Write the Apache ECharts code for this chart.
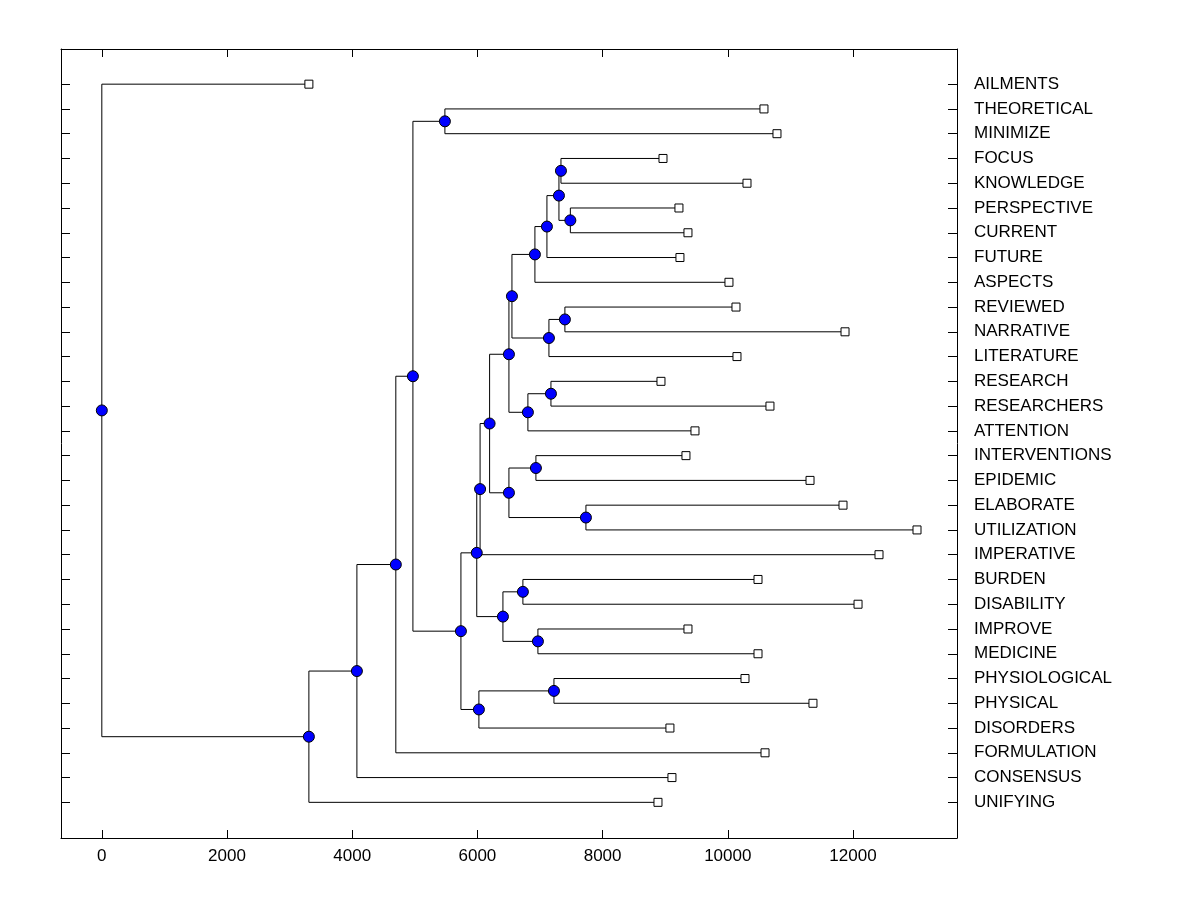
<!DOCTYPE html>
<html>
<head>
<meta charset="utf-8">
<title>Dendrogram</title>
<script src="https://cdn.jsdelivr.net/npm/echarts@6/dist/echarts.min.js"></script>
<style>
html, body { margin: 0; padding: 0; background: #fff; }
#chart { width: 1200px; height: 900px; }
</style>
</head>
<body>
<div id="chart"></div>
<script>
// leaves, top to bottom
var leafNames = ['AILMENTS', 'THEORETICAL', 'MINIMIZE', 'FOCUS', 'KNOWLEDGE', 'PERSPECTIVE', 'CURRENT', 'FUTURE',
	'ASPECTS', 'REVIEWED', 'NARRATIVE', 'LITERATURE', 'RESEARCH', 'RESEARCHERS', 'ATTENTION', 'INTERVENTIONS',
	'EPIDEMIC', 'ELABORATE', 'UTILIZATION', 'IMPERATIVE', 'BURDEN', 'DISABILITY', 'IMPROVE', 'MEDICINE',
	'PHYSIOLOGICAL', 'PHYSICAL', 'DISORDERS', 'FORMULATION', 'CONSENSUS', 'UNIFYING'];
var leafHeights = [3308, 10578, 10786, 8965, 10307, 9220, 9364, 9236,
	10019, 10131, 11873, 10147, 8933, 10674, 9476, 9332,
	11314, 11841, 13023, 12416, 10483, 12081, 9364, 10483,
	10275, 11361, 9076, 10595, 9108, 8885];

// merges: ids 0..29 are leaves, merge k gets id 30+k
var mergeChildren = [
	[3, 4], [5, 6], [30, 31], [32, 7], [33, 8],
	[9, 10], [35, 11], [34, 36], [12, 13], [38, 14],
	[37, 39], [15, 16], [17, 18], [41, 42], [40, 43],
	[44, 19], [20, 21], [22, 23], [46, 47], [45, 48],
	[24, 25], [50, 26], [49, 51], [1, 2], [53, 52],
	[54, 27], [55, 28], [56, 29], [0, 57]
];
var mergeHeights = [
	7335, 7485, 7303, 7111, 6919,
	7398, 7143, 6552, 7175, 6807,
	6504, 6935, 7734, 6504, 6195,
	6043, 6727, 6967, 6408, 5990,
	7223, 6024, 5737, 5481, 4970,
	4697, 4075, 3308, 0
];

var xTicks = [0, 2000, 4000, 6000, 8000, 10000, 12000];

var nodeX = leafHeights.slice();
var nodeY = leafNames.map(function(n, i) { return i; });
var branches = [];
var joints = [];
mergeChildren.forEach(function(pair, k) {
	var h = mergeHeights[k];
	var y = (nodeY[pair[0]] + nodeY[pair[1]]) / 2;
	nodeX.push(h);
	nodeY.push(y);
	joints.push([h, y]);
	pair.forEach(function(c) {
		branches.push({ coords: [[h, y], [h, nodeY[c]], [nodeX[c], nodeY[c]]] });
	});
});
var leaves = leafHeights.map(function(h, i) { return [h, i]; });
var rows = leafNames.map(function(n, i) { return i; });

var font = 'Liberation Sans, Arial, sans-serif';
var axisLine = { show: true, onZero: false, lineStyle: { color: '#000', width: 1 } };
var tick = function(len, vals) {
	return { inside: true, length: len, lineStyle: { color: '#000', width: 1 }, customValues: vals };
};

var option = {
	animation: false,
	backgroundColor: '#fff',
	grid: { left: 61, right: 243, top: 49, bottom: 62 },
	xAxis: [{
		type: 'value', min: -652, max: 13662, position: 'bottom',
		axisLine: axisLine,
		axisTick: tick(8, xTicks),
		axisLabel: {
			margin: 10, color: '#000', fontSize: 17, fontFamily: font, customValues: xTicks,
			formatter: function(v) { return String(v); }
		},
		splitLine: { show: false }
	}, {
		type: 'value', min: -652, max: 13662, position: 'top',
		axisLine: axisLine,
		axisTick: tick(8, xTicks),
		axisLabel: { show: false },
		splitLine: { show: false }
	}],
	yAxis: [{
		type: 'value', min: -1.42, max: 30.44, inverse: true, position: 'left',
		axisLine: axisLine,
		axisTick: tick(9, rows),
		axisLabel: { show: false },
		splitLine: { show: false }
	}, {
		type: 'value', min: -1.42, max: 30.44, inverse: true, position: 'right',
		axisLine: axisLine,
		axisTick: tick(9, rows),
		axisLabel: {
			margin: 17, color: '#000', fontSize: 17, fontFamily: font, customValues: rows,
			formatter: function(v) { return leafNames[Math.round(v)] || ''; }
		},
		splitLine: { show: false }
	}],
	series: [{
		type: 'lines',
		coordinateSystem: 'cartesian2d',
		polyline: true,
		silent: true,
		data: branches,
		lineStyle: { color: '#000', width: 1, opacity: 1 },
		z: 1
	}, {
		type: 'scatter',
		data: leaves,
		symbol: 'rect',
		symbolSize: 8,
		itemStyle: { color: '#fff', borderColor: '#000', borderWidth: 1, opacity: 1 },
		z: 2
	}, {
		type: 'scatter',
		data: joints,
		symbol: 'circle',
		symbolSize: 11,
		itemStyle: { color: '#0000ff', borderColor: '#000', borderWidth: 1, opacity: 1 },
		z: 3
	}]
};

var myChart = echarts.init(document.getElementById('chart'));
myChart.setOption(option);
</script>
</body>
</html>
